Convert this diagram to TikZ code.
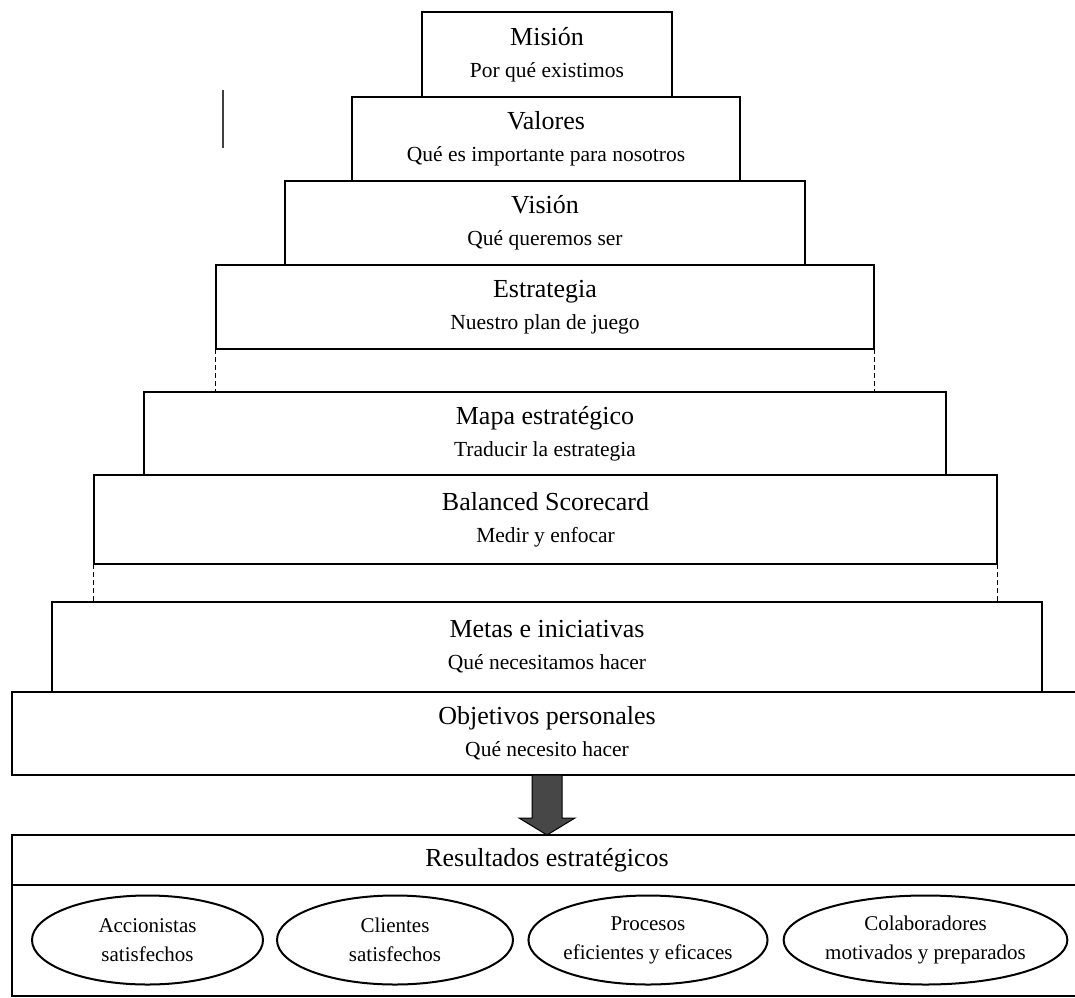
\documentclass[tikz,border=0pt]{standalone}
\usepackage{fontspec}
\setmainfont{Liberation Serif}
\usetikzlibrary{shapes.geometric,calc}

\newcommand\tierhead{\fontsize{26bp}{32bp}\selectfont}
\newcommand\tiersub{\fontsize{21.5bp}{32bp}\selectfont}
\newcommand\ovaltext{\fontsize{21bp}{29bp}\selectfont}

\tikzset{
  tier/.style={draw, rectangle, line width=2.2bp, inner sep=0pt, outer sep=0pt,
               align=center, font=\tiersub},
  goal/.style={draw, ellipse, line width=2bp, inner sep=0pt, outer sep=0pt,
               minimum height=89bp, align=center, font=\ovaltext},
  gap/.style={line width=1bp, dash pattern=on 5bp off 3bp},
  blockarrow/.style={fill=black!72, draw=black, line width=1bp}
}

\begin{document}
\begin{tikzpicture}[x=1bp, y=-1bp]
\useasboundingbox (0,0) rectangle (1075,998);

% the pyramid of tiers, top to bottom
\node[tier, minimum width=250bp, minimum height=85bp] (mision) at (547,54.5)
  {{\tierhead Misión}\\Por qué existimos};
\node[tier, minimum width=388bp, minimum height=84bp] (valores) at (546,139)
  {{\tierhead Valores}\\Qué es importante para nosotros};
\node[tier, minimum width=520bp, minimum height=84bp] (vision) at (545,223)
  {{\tierhead Visión}\\Qué queremos ser};
\node[tier, minimum width=658bp, minimum height=84bp] (estrategia) at (545,307)
  {{\tierhead Estrategia}\\Nuestro plan de juego};
\node[tier, minimum width=802bp, minimum height=83bp] (mapa) at (545,433.5)
  {{\tierhead Mapa estratégico}\\Traducir la estrategia};
\node[tier, minimum width=903bp, minimum height=89bp] (balanced) at (545.5,519.5)
  {{\tierhead Balanced Scorecard}\\Medir y enfocar};
\node[tier, minimum width=990bp, minimum height=90bp] (metas) at (547,647)
  {{\tierhead Metas e iniciativas}\\Qué necesitamos hacer};
\node[tier, minimum width=1070bp, minimum height=83bp] (objetivos) at (547,733.5)
  {{\tierhead Objetivos personales}\\Qué necesito hacer};

% dashed links across the two gaps
\draw[gap] (estrategia.south west) -- (estrategia.south west |- mapa.north);
\draw[gap] (estrategia.south east) -- (estrategia.south east |- mapa.north);
\draw[gap] (balanced.south west) -- (balanced.south west |- metas.north);
\draw[gap] (balanced.south east) -- (balanced.south east |- metas.north);

% results panel
\node[tier, minimum width=1070bp, minimum height=50bp, font=\tierhead] (reshead) at (547,860)
  {Resultados estratégicos};
\node[tier, minimum width=1070bp, minimum height=111bp] (resbody) at (547,940.5) {};

\node[goal, minimum width=231bp] (accionistas) at (147.5,940) {Accionistas\\satisfechos};
\node[goal, minimum width=236bp] (clientes) at (395,940) {Clientes\\satisfechos};
\node[goal, minimum width=230bp] (procesos) at (648,940) {Procesos\\eficientes y eficaces};
\node[goal, minimum width=275bp] (colaboradores) at (925.5,940) {Colaboradores\\motivados y preparados};

% block arrow from the personal objectives down to the results
\coordinate (arrtop) at (objetivos.south);
\coordinate (arrtip) at (reshead.north);
\filldraw[blockarrow] ($(arrtop)+(-15,0)$) -- ($(arrtop)+(15,0)$)
  -- ($(arrtip)+(15,-17)$) -- ($(arrtip)+(28,-17)$) -- (arrtip)
  -- ($(arrtip)+(-28,-17)$) -- ($(arrtip)+(-15,-17)$) -- cycle;

% short vertical tick left of the top tiers
\draw[line width=1.5bp, black!75] (223,90) -- (223,148);
\end{tikzpicture}
\end{document}
